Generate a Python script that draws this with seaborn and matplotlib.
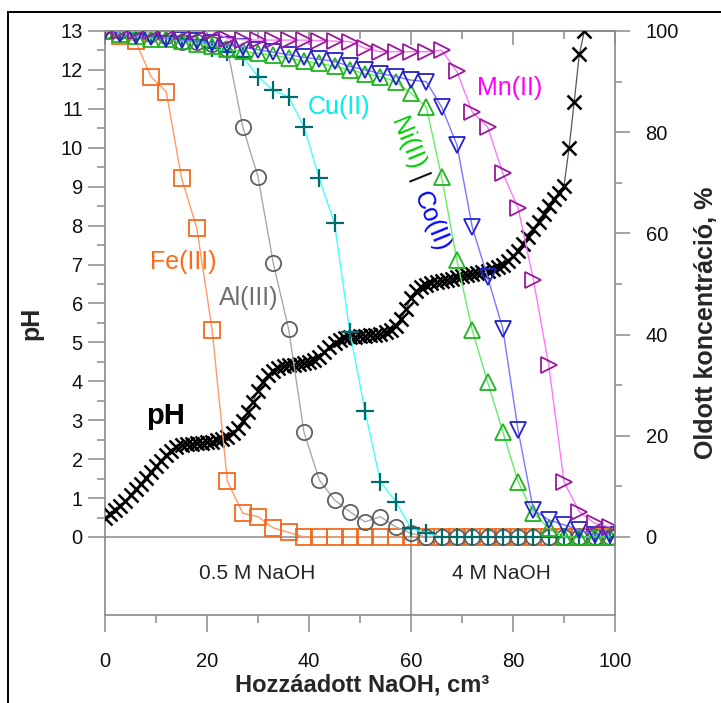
import matplotlib
matplotlib.use("Agg")
import matplotlib.pyplot as plt
import seaborn as sns
from matplotlib.patches import Rectangle
from matplotlib.ticker import MultipleLocator

# ---------------------------------------------------------------
# Titration curve: pH versus added NaOH volume (cm3)
# ---------------------------------------------------------------
ph_volume = list(range(0, 95))
ph_values = [
    0.50, 0.58, 0.68, 0.80, 0.93, 1.07, 1.22, 1.37, 1.52, 1.67,
    1.82, 1.96, 2.10, 2.22, 2.30, 2.35, 2.38, 2.40, 2.41, 2.42,
    2.43, 2.45, 2.48, 2.52, 2.58, 2.67, 2.80, 2.98, 3.20, 3.48,
    3.75, 3.98, 4.15, 4.26, 4.33, 4.38, 4.41, 4.43, 4.45, 4.47,
    4.50, 4.55, 4.63, 4.75, 4.88, 4.99, 5.06, 5.10, 5.13, 5.15,
    5.16, 5.17, 5.18, 5.20, 5.22, 5.26, 5.32, 5.42, 5.60, 5.85,
    6.15, 6.32, 6.42, 6.48, 6.52, 6.55, 6.58, 6.61, 6.64, 6.67,
    6.70, 6.72, 6.75, 6.78, 6.81, 6.84, 6.88, 6.93, 7.00, 7.10,
    7.22, 7.36, 7.52, 7.70, 7.90, 8.10, 8.30, 8.50, 8.68, 8.85,
    9.02, 10.00, 11.18, 12.40, 13.00,
]

# ---------------------------------------------------------------
# Dissolved metal concentration (%), sampled every 3 cm3
# ---------------------------------------------------------------
metal_volume = list(range(0, 100, 3))
fe_pct = [100, 99, 98, 91, 88, 71, 61, 41, 11, 4.7, 4.0, 1.8, 0.9,
          0, 0, 0, 0, 0, 0, 0, 0, 0, 0, 0, 0, 0, 0, 0, 0, 0, 0, 0, 0, 0]
al_pct = [100, 100, 100, 99.5, 99, 97.9, 97.9, 97.5, 96.5, 81.1, 71.2,
          54.1, 41.1, 20.8, 11.3, 7.3, 5.0, 3.0, 4.0, 2.0, 0.7,
          0, 0, 0, 0, 0, 0, 0, 0, 0, 0, 0, 0, 0]
cu_pct = [100, 100, 99.5, 99, 99, 98.5, 98.2, 96.6, 95.9, 94.9, 91,
          88.3, 87, 81.1, 70.9, 62, 40.6, 24.8, 10.9, 7.0, 1.7, 0.7,
          0, 0, 0, 0, 0, 0, 0, 0, 0, 0, 0, 0]
ni_pct = [100, 99.5, 99, 98.5, 98.5, 98, 97.5, 97, 96.5, 96, 95.6,
          95.2, 94.7, 94, 93.6, 93, 92.3, 91.6, 91, 90, 87.7, 85,
          71.2, 54.7, 40.9, 30.7, 20.8, 10.9, 4.7, 1.7, 0, 0, 0, 0]
co_pct = [100, 99.5, 99, 98.8, 98.5, 98.2, 98, 97.6, 97.2, 96.8, 96.3,
          95.8, 95.3, 94.8, 94.4, 94, 93, 92.3, 91.6, 91, 90.3, 90,
          85, 77.5, 61.3, 51.4, 41.2, 21.1, 5.3, 3.4, 2.4, 1.4, 0.4, 0.4]
mn_pct = [100, 100, 100, 100, 100, 100, 100, 100, 98.5, 98.3, 98.2,
          98.2, 98.2, 98.2, 98.1, 98, 97.9, 96.6, 95.9, 95.9, 95.9, 95.9,
          96.2, 92, 84, 81.1, 71.9, 65, 50.8, 34, 10.9, 5, 2.7, 2]

metal_names = ["Fe(III)", "Al(III)", "Cu(II)", "Ni(II)", "Co(II)", "Mn(II)"]
split_volume = 60          # 0.5 M NaOH before, 4 M NaOH after

# ---------------------------------------------------------------
sns.set_theme(style="white")
plt.rcParams["font.family"] = ["Liberation Sans", "DejaVu Sans"]

GRAY = "#8a8a8a"
W, H = 721, 703
fig = plt.figure(figsize=(W / 100, H / 100), dpi=100)
ax = fig.add_axes([105 / W, (H - 614.8) / H, 510 / W, (614.8 - 31) / H])
ax2 = ax.twinx()

ax.set_xlim(0, 100)
ax.set_ylim(-2, 13)
ax2.set_ylim(-200 / 13, 100)

# pH curve (left axis)
sns.lineplot(x=ph_volume, y=ph_values, ax=ax, color="#555555",
             linewidth=0.9, marker="x", markersize=9.5,
             markeredgecolor="black", markeredgewidth=1.8,
             legend=False, zorder=3)

# metal curves (right axis)
series = [fe_pct, al_pct, cu_pct, ni_pct, co_pct, mn_pct]
line_colors = ["#ff9a66", "#a8a8a8", "#44ffff", "#66ee66", "#7777ff", "#ff77ff"]
mark_colors = ["#f26a1b", "#606060", "#006b6b", "#1fb41f", "#2323c8", "#99199b"]
markers = ["s", "o", "+", "^", "v", ">"]
for vals, lc, mc, mk in zip(series, line_colors, mark_colors, markers):
    sns.lineplot(x=metal_volume, y=vals, ax=ax2, color=lc, linewidth=1.0,
                 marker=mk, markersize=11 if mk != "+" else 13,
                 markerfacecolor="none", markeredgecolor=mc,
                 markeredgewidth=1.3 if mk != "+" else 1.6,
                 legend=False)

# pH = 0 baseline and the separator between the two NaOH solutions
ax.axhline(0, color=GRAY, linewidth=1.1, zorder=1)
ax.vlines(split_volume, -2, 0, color=GRAY, linewidth=1.1, zorder=1)
ax.text(29.8, -0.93, "0.5 M NaOH", fontsize=15, ha="center", va="center")
ax.text(77.8, -0.93, "4 M NaOH", fontsize=15, ha="center", va="center")

# series labels
ax.text(15.3, 7.07, metal_names[0], color="#ff6a13", fontsize=18,
        ha="center", va="center")
ax.text(28.2, 6.14, metal_names[1], color="#707070", fontsize=18,
        ha="center", va="center")
ax.text(45.9, 11.05, metal_names[2], color="#00eeee", fontsize=18,
        ha="center", va="center")
ax.text(59.2, 10.1, metal_names[3], color="#00d000", fontsize=18,
        ha="center", va="center", rotation=-68, rotation_mode="anchor")
ax.text(61.3, 9.2, "|", color="black", fontsize=18,
        ha="center", va="center", rotation=-68, rotation_mode="anchor")
ax.text(64.1, 8.1, metal_names[4], color="#0000ff", fontsize=18,
        ha="center", va="center", rotation=-68, rotation_mode="anchor")
ax.text(79.4, 11.54, metal_names[5], color="#ff00ff", fontsize=18,
        ha="center", va="center")
ax.text(11.8, 3.1, "pH", color="black", fontsize=21, fontweight="bold",
        ha="center", va="center")

# axes styling
for a in (ax, ax2):
    for s in a.spines.values():
        s.set_color(GRAY)
        s.set_linewidth(1.2)
ax.spines["right"].set_visible(False)
for side in ("left", "top", "bottom"):
    ax2.spines[side].set_visible(False)

ax.set_yticks(range(0, 14))
ax.yaxis.set_minor_locator(MultipleLocator(0.5))
ax.set_yticks([v / 2 for v in range(1, 26, 2)], minor=True)
ax.set_xticks(range(0, 101, 20))
ax.set_xticks(range(10, 100, 20), minor=True)
ax.tick_params(axis="y", which="major", left=True, right=False,
               direction="out", length=12, width=1.1, color=GRAY,
               labelsize=14.5, pad=4, labelcolor="#111111")
ax.tick_params(axis="y", which="minor", left=True, right=False,
               direction="out", length=6, width=1.1, color=GRAY)
ax.tick_params(axis="x", which="major", bottom=True, top=False,
               direction="out", length=12, width=1.1, color=GRAY,
               labelsize=14.5, pad=15, labelcolor="#111111")
ax.tick_params(axis="x", which="minor", bottom=True, top=False,
               direction="out", length=6, width=1.1, color=GRAY)

top = ax.secondary_xaxis("top")
top.set_xticks(range(0, 101, 20))
top.set_xticks(range(10, 100, 20), minor=True)
top.tick_params(which="major", direction="in", length=10, width=1.1,
                color=GRAY, labeltop=False)
top.tick_params(which="minor", direction="in", length=6, width=1.1,
                color=GRAY)
top.spines["top"].set_color(GRAY)
top.spines["top"].set_linewidth(1.2)

ax2.set_yticks(range(0, 101, 20))
ax2.set_yticks(range(10, 100, 20), minor=True)
ax2.tick_params(axis="y", which="major", right=True, left=False,
                direction="out", length=11, width=1.1, color=GRAY,
                labelsize=14.5, pad=11, labelcolor="#111111")
ax2.tick_params(axis="y", which="minor", right=True, left=False,
                direction="out", length=5, width=1.1, color=GRAY)

ax.set_xlabel("Hozzáadott NaOH, cm³", fontsize=17, fontweight="bold")
ax.xaxis.label.set(va="center", ha="center")
ax.xaxis.set_label_coords(0.504, -0.12)
ax.set_ylabel("pH", fontsize=18, fontweight="bold")
ax.yaxis.label.set(va="center", ha="center", rotation_mode="anchor")
ax.yaxis.set_label_coords((31 - 105) / 510, 0.5)
ax2.set_ylabel("Oldott koncentráció, %", fontsize=18, fontweight="bold",
               rotation=90)
ax2.yaxis.label.set(va="center", ha="center", rotation_mode="anchor")
ax2.yaxis.set_label_coords((706 - 105) / 510, 0.5)

# frame around the figure
fig.patches.append(Rectangle((8 / W, -0.1), 1.2, 1 - 12 / H + 0.1,
                             transform=fig.transFigure, fill=False,
                             edgecolor="black", linewidth=1.4,
                             clip_on=False))

fig.savefig("out.png", dpi=100)
